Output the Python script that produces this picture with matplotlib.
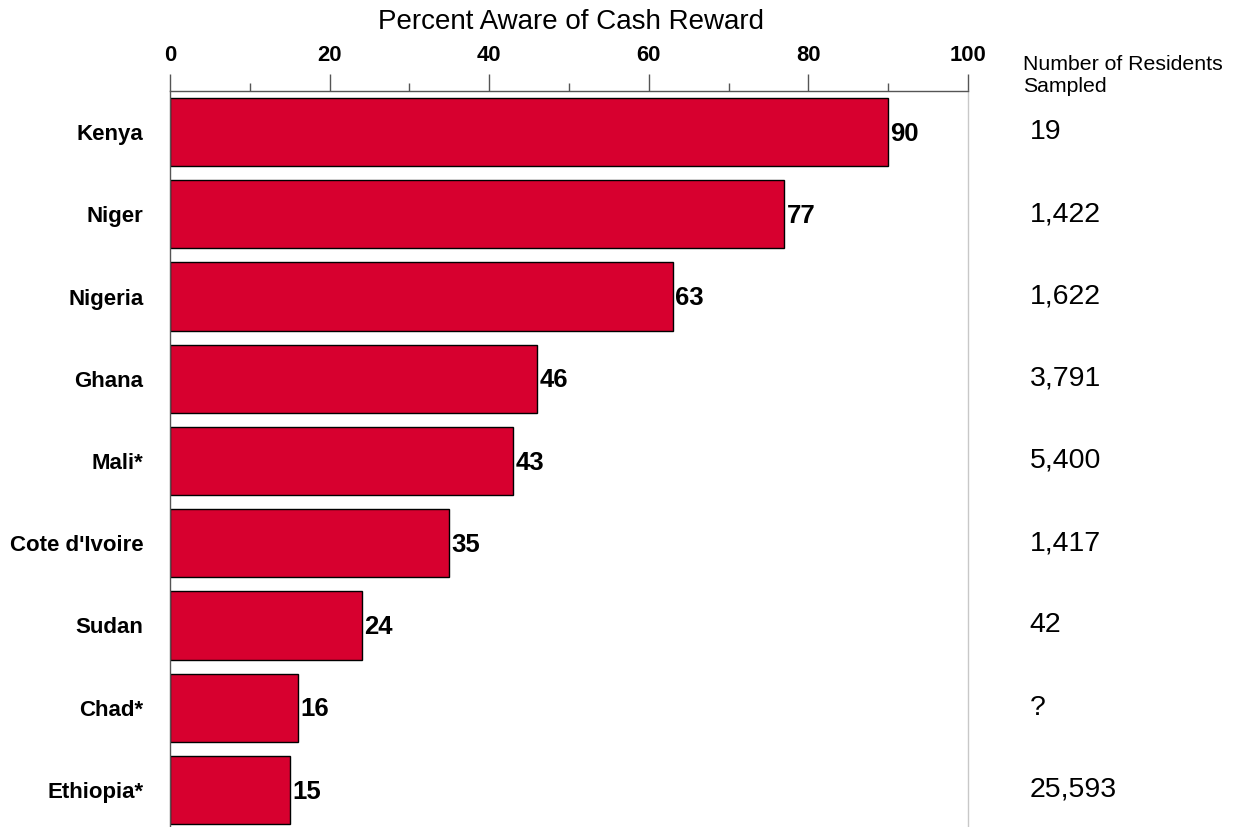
import numpy as np
import matplotlib
matplotlib.use("Agg")
import matplotlib.pyplot as plt
from matplotlib.ticker import MultipleLocator

plt.rcParams['font.family'] = ['Liberation Sans', 'DejaVu Sans']

countries = ["Kenya", "Niger", "Nigeria", "Ghana", "Mali*", "Cote d'Ivoire",
             "Sudan", "Chad*", "Ethiopia*"]
aware_pct = [90, 77, 63, 46, 43, 35, 24, 16, 15]
residents = ["19", "1,422", "1,622", "3,791", "5,400", "1,417", "42", "?", "25,593"]
xticks = [0, 20, 40, 60, 80, 100]

bar_color = '#D7002F'
axis_gray = '#555555'

fig = plt.figure(figsize=(12.39, 8.27), dpi=100)
ax = fig.add_axes([0.1372, -0.0048, 0.6441, 0.8948])

y = np.arange(len(countries))
ax.barh(y, aware_pct, height=0.83, color=bar_color, edgecolor='black', linewidth=1.0)

ax.set_xlim(0, 100)
ax.set_ylim(len(countries) - 0.5, -0.5)

# top axis with labels
ax.xaxis.tick_top()
ax.set_xticks(xticks)
ax.set_xticklabels([str(t) for t in xticks], fontsize=15.8, fontweight='bold')
ax.xaxis.set_minor_locator(MultipleLocator(10))
ax.tick_params(axis='x', which='major', length=12.2, width=1, color=axis_gray, pad=5.5)
ax.tick_params(axis='x', which='minor', length=5.8, width=1, color=axis_gray)

ax.set_yticks(y)
ax.set_yticklabels(countries, fontsize=16, fontweight='bold')
ax.tick_params(axis='y', length=0, pad=19)

ax.spines['bottom'].set_visible(False)
ax.spines['top'].set_color(axis_gray)
ax.spines['left'].set_color(axis_gray)
ax.spines['right'].set_color('#c8c8c8')
for s in ['top', 'left', 'right']:
    ax.spines[s].set_linewidth(1.0)

# value labels at bar ends
for yi, v in zip(y, aware_pct):
    ax.text(v + 0.3, yi + 0.02, str(v), ha='left', va='center', fontsize=18.5,
            fontweight='bold', clip_on=False)

# right column: sample sizes
ytrans = ax.get_yaxis_transform()
for yi, n in zip(y, residents):
    ax.text(1.077, yi, n, transform=ytrans, ha='left', va='center',
            fontsize=20.5, clip_on=False)

fig.text(0.8257, 0.9087, "Number of Residents\nSampled", ha='left', va='center',
         fontsize=15.3, linespacing=1.25)

fig.text(0.4605, 0.973, "Percent Aware of Cash Reward", ha='center', va='center',
         fontsize=20)

fig.savefig('out.png', dpi=100)
